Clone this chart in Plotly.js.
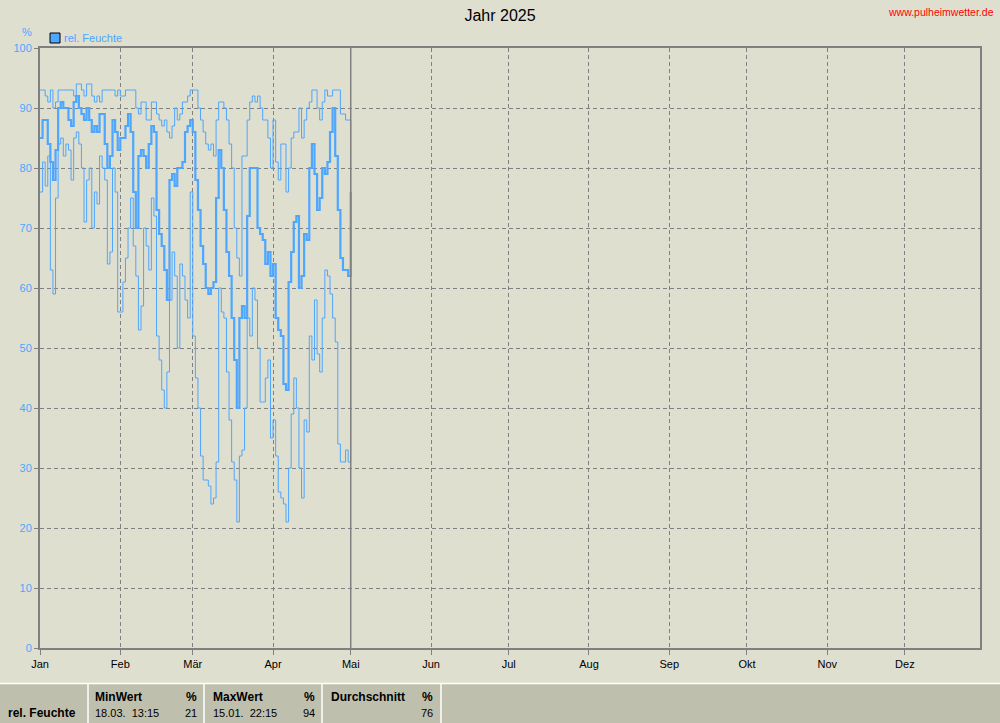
<!DOCTYPE html>
<html>
<head>
<meta charset="utf-8">
<script src="https://cdn.plot.ly/plotly-3.0.1.min.js"></script>
<style>
  html, body { margin: 0; padding: 0; background: #dfdfd0; }
  #chart { width: 1000px; height: 723px; }
</style>
</head>
<body>
<div id="chart"></div>
<script>
// ---- Data (rel. Feuchte, %, daily values) ----
const monthLabels = ['Jan','Feb','Mär','Apr','Mai','Jun','Jul','Aug','Sep','Okt','Nov','Dez'];

const maxJan = [93,93,92,91,93,90,91,93,93,93,93,93,93,92,94,94,93,92,94,94,92,91,92,91,93,93,93,93,93,92,93];
const minJan = [76,81,77,82,63,59,75,84,85,82,84,83,78,85,86,84,80,71,78,80,70,76,74,82,80,78,64,66,80,76,56];
const meanJan = [85,88,88,84,81,78,83,90,91,90,90,88,87,91,92,90,89,88,90,88,86,87,86,89,89,84,80,82,88,86,83];

const maxFeb = [92,92,93,93,93,93,90,89,91,91,88,88,91,91,89,88,87,88,86,85,87,90,88,89,91,91,92,93];
const minFeb = [56,61,65,70,75,67,62,53,57,70,67,63,75,72,52,48,43,40,46,58,66,62,50,64,62,58,55,76];
const meanFeb = [85,85,87,89,86,76,70,82,83,82,80,84,87,86,73,69,67,63,58,78,79,77,80,80,81,86,87,88];

const maxMar = [93,93,90,88,86,84,83,84,82,88,91,91,90,88,84,80,70,65,62,82,82,88,91,92,91,92,90,88,88,85,80];
const minMar = [52,45,40,32,28,28,27,24,25,31,60,56,55,46,38,31,28,21,32,33,40,55,52,60,58,50,41,41,45,48,35];
const meanMar = [86,78,73,67,64,60,59,60,61,75,83,80,73,66,62,55,48,40,55,57,55,72,80,80,80,70,69,68,64,66,62];

const maxApr = [88,81,78,84,84,76,80,85,86,86,90,85,88,90,91,93,93,90,88,91,93,92,92,93,93,93,89,89,88,88];
const minApr = [38,32,26,25,24,21,30,39,45,40,30,25,38,36,52,48,58,49,46,55,63,62,59,55,51,34,31,31,33,31];
const meanApr = [64,55,53,52,44,43,61,66,71,72,60,62,69,68,80,84,79,73,75,80,79,81,86,90,82,73,65,63,63,62];

const maxMai = [76];
const minMai = [76];
const meanMai = [76];

const seriesName = 'rel. Feuchte';
const unit = '%';
const statHeaders = ['MinWert','MaxWert','Durchschnitt'];
const statWhen = ['18.03.  13:15','15.01.  22:15',''];
const statValues = [21, 94, 76];

// ---- Build series ----
const maxVals = [].concat(maxJan, maxFeb, maxMar, maxApr, maxMai);
const minVals = [].concat(minJan, minFeb, minMar, minApr, minMai);
const meanVals = [].concat(meanJan, meanFeb, meanMar, meanApr, meanMai);

function isoDay(i) {
  const d = new Date(Date.UTC(2025, 0, 1 + i));
  return d.toISOString().slice(0, 10);
}
const days = meanVals.map((_, i) => isoDay(i));
const monthTicks = monthLabels.map((_, m) => '2025-' + String(m + 1).padStart(2, '0') + '-01');

const blue = '#4da6ff';
const gray = '#808080';
const FONT = 'Liberation Sans, Arial, sans-serif';

const traces = [
  { x: days, y: minVals, type: 'scatter', mode: 'lines', line: { color: blue, width: 1, shape: 'hv' }, hoverinfo: 'skip', showlegend: false },
  { x: days, y: maxVals, type: 'scatter', mode: 'lines', line: { color: blue, width: 1, shape: 'hv' }, hoverinfo: 'skip', showlegend: false },
  { x: days, y: meanVals, type: 'scatter', mode: 'lines', line: { color: blue, width: 2.2, shape: 'hv' }, hoverinfo: 'skip', showlegend: false }
];

// pixel -> paper helpers (plot area: x 40..980, y 48..648)
const PX = px => (px - 40) / 940;
const PY = py => (648 - py) / 600;

const shapes = [
  // current-date marker
  { type: 'line', xref: 'x', yref: 'paper', x0: '2025-05-01', x1: '2025-05-01', y0: 0, y1: 1, line: { color: gray, width: 1.5 } },
  // legend swatch
  { type: 'rect', xref: 'paper', yref: 'paper', x0: PX(50), x1: PX(60), y0: PY(43), y1: PY(33), fillcolor: blue, line: { color: '#000', width: 1 } },
  // stats band
  { type: 'rect', xref: 'paper', yref: 'paper', x0: PX(0), x1: PX(1000), y0: PY(724), y1: PY(683), fillcolor: '#bfbfae', line: { width: 0 } },
  { type: 'line', xref: 'paper', yref: 'paper', x0: PX(0), x1: PX(1000), y0: PY(683.5), y1: PY(683.5), line: { color: '#ffffff', width: 1.5 } }
];
[88, 204, 322, 441].forEach(px => {
  shapes.push({ type: 'line', xref: 'paper', yref: 'paper', x0: PX(px), x1: PX(px), y0: PY(684), y1: PY(724), line: { color: '#ffffff', width: 1.5 } });
});

const annotations = [
  { xref: 'paper', yref: 'paper', x: PX(996), y: PY(12), xanchor: 'right', yanchor: 'middle', text: 'www.pulheimwetter.de', showarrow: false, font: { family: FONT, size: 10.5, color: '#ff0000' } },
  { xref: 'paper', yref: 'paper', x: PX(27), y: PY(32), xanchor: 'center', yanchor: 'middle', text: unit, showarrow: false, font: { family: FONT, size: 11, color: blue } },
  { xref: 'paper', yref: 'paper', x: PX(62), y: PY(38), xanchor: 'left', yanchor: 'middle', text: seriesName, showarrow: false, font: { family: FONT, size: 11, color: blue } },
  { xref: 'paper', yref: 'paper', x: PX(6), y: PY(713), xanchor: 'left', yanchor: 'middle', text: '<b>' + seriesName + '</b>', showarrow: false, font: { family: FONT, size: 12, color: '#000' } }
];
const colLeft = [93, 211, 329];
const colRight = [199, 317, 435];
statHeaders.forEach((h, i) => {
  annotations.push({ xref: 'paper', yref: 'paper', x: PX(colLeft[i]), y: PY(697), xanchor: 'left', yanchor: 'middle', text: '<b>' + h + '</b>', showarrow: false, font: { family: FONT, size: 12, color: '#000' } });
  annotations.push({ xref: 'paper', yref: 'paper', x: PX(colRight[i]), y: PY(697), xanchor: 'right', yanchor: 'middle', text: '<b>' + unit + '</b>', showarrow: false, font: { family: FONT, size: 12, color: '#000' } });
  if (statWhen[i]) {
    annotations.push({ xref: 'paper', yref: 'paper', x: PX(colLeft[i]), y: PY(713), xanchor: 'left', yanchor: 'middle', text: statWhen[i].replace(/ /g, '&nbsp;'), showarrow: false, font: { family: FONT, size: 11, color: '#000' } });
  }
  annotations.push({ xref: 'paper', yref: 'paper', x: PX(colRight[i]), y: PY(713), xanchor: 'right', yanchor: 'middle', text: String(statValues[i]), showarrow: false, font: { family: FONT, size: 11, color: '#000' } });
});

const layout = {
  width: 1000, height: 723,
  margin: { l: 40, r: 20, t: 48, b: 75, pad: 0 },
  paper_bgcolor: '#dfdfd0',
  plot_bgcolor: '#dfdfd0',
  font: { family: FONT, size: 11, color: '#000' },
  title: { text: 'Jahr 2025', x: 0.5, xref: 'container', xanchor: 'center', y: 1 - 15 / 723, yref: 'container', yanchor: 'middle', font: { family: FONT, size: 16, color: '#000' } },
  showlegend: false,
  xaxis: {
    type: 'date',
    range: ['2025-01-01', '2025-12-30'],
    tickmode: 'array', tickvals: monthTicks, ticktext: monthLabels,
    ticks: 'outside', ticklen: 5, tickcolor: gray, tickwidth: 1,
    tickfont: { family: FONT, size: 11, color: '#000' },
    showgrid: true, gridcolor: gray, gridwidth: 1, griddash: '4px,3px',
    showline: true, linecolor: gray, linewidth: 2, mirror: true,
    zeroline: false, fixedrange: true
  },
  yaxis: {
    range: [0, 100], dtick: 10, tick0: 0,
    ticks: 'outside', ticklen: 4, tickcolor: gray, tickwidth: 1,
    tickfont: { family: FONT, size: 11, color: blue },
    showgrid: true, gridcolor: gray, gridwidth: 1, griddash: '4px,3px',
    showline: true, linecolor: gray, linewidth: 2, mirror: true,
    zeroline: false, fixedrange: true
  },
  shapes: shapes,
  annotations: annotations
};

Plotly.newPlot('chart', traces, layout, { displayModeBar: false, staticPlot: true });
</script>
</body>
</html>
